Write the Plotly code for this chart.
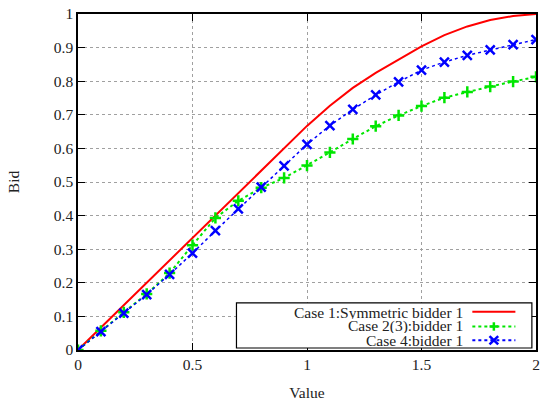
import plotly.graph_objects as go

values = [round(0.1 * i, 1) for i in range(21)]
case1_sym = [0, 0.067, 0.133, 0.2, 0.267, 0.333, 0.4, 0.467, 0.533, 0.6, 0.667,
             0.727, 0.780, 0.825, 0.865, 0.904, 0.937, 0.963, 0.982, 0.994, 1.0]
case23 = [0, 0.057, 0.112, 0.167, 0.229, 0.312, 0.393, 0.444, 0.483, 0.512, 0.549,
          0.588, 0.628, 0.666, 0.698, 0.726, 0.751, 0.768, 0.784, 0.799, 0.813]
case4 = [0, 0.055, 0.11, 0.165, 0.225, 0.288, 0.355, 0.42, 0.485, 0.548, 0.612,
         0.668, 0.716, 0.759, 0.798, 0.833, 0.857, 0.877, 0.893, 0.909, 0.924]
names = ["Case 1:Symmetric bidder 1", "Case 2(3):bidder 1", "Case 4:bidder 1"]
colors = ["#ff0000", "#00e600", "#0000ff"]
y_ticks = [round(0.1 * i, 1) for i in range(11)]
y_labels = ["0", "0.1", "0.2", "0.3", "0.4", "0.5", "0.6", "0.7", "0.8", "0.9", "1"]
x_ticks = [0, 0.5, 1, 1.5, 2]
x_labels = ["0", "0.5", "1", "1.5", "2"]

FONT = "Liberation Serif"
FS = 15.5

fig = go.Figure()
fig.add_trace(go.Scatter(x=values, y=case1_sym, mode="lines", name=names[0],
                         line=dict(color=colors[0], width=2), showlegend=False))
fig.add_trace(go.Scatter(x=values, y=case23, mode="lines+markers", name=names[1],
                         line=dict(color=colors[1], width=2, dash="dot"),
                         marker=dict(symbol="cross-thin", size=8,
                                     line=dict(color=colors[1], width=2.5)),
                         showlegend=False))
fig.add_trace(go.Scatter(x=values, y=case4, mode="lines+markers", name=names[2],
                         line=dict(color=colors[2], width=1.5, dash="dot"),
                         marker=dict(symbol="x-thin", size=9,
                                     line=dict(color=colors[2], width=2.5)),
                         showlegend=False))

# custom gnuplot-style legend (samples on the right of the text)
leg_rows = [0.114, 0.070, 0.029]
fig.add_shape(type="rect", xref="x domain", yref="y domain", x0=0.346, x1=0.991,
              y0=0.006, y1=0.140, line=dict(color="black", width=1.2),
              fillcolor="white", layer="above")
dashes = ["solid", "dot", "dot"]
mx, hx, hy = 0.908, 0.0095, 0.0125
for i in range(3):
    yy = leg_rows[i]
    fig.add_annotation(xref="x domain", yref="y domain", x=0.842, y=yy,
                       text=names[i], showarrow=False, xanchor="right",
                       yanchor="middle", height=14, borderpad=0,
                       font=dict(family=FONT, size=FS, color="#222"))
    fig.add_shape(type="line", xref="x domain", yref="y domain", x0=0.861, x1=0.955,
                  y0=yy, y1=yy, layer="above",
                  line=dict(color=colors[i], width=2, dash=dashes[i]))
    if i == 1:
        fig.add_shape(type="line", xref="x domain", yref="y domain", x0=mx - hx, x1=mx + hx,
                      y0=yy, y1=yy, layer="above", line=dict(color=colors[i], width=2.5))
        fig.add_shape(type="line", xref="x domain", yref="y domain", x0=mx, x1=mx,
                      y0=yy - hy, y1=yy + hy, layer="above", line=dict(color=colors[i], width=2.5))
    if i == 2:
        fig.add_shape(type="line", xref="x domain", yref="y domain", x0=mx - hx, x1=mx + hx,
                      y0=yy - hy, y1=yy + hy, layer="above", line=dict(color=colors[i], width=2.5))
        fig.add_shape(type="line", xref="x domain", yref="y domain", x0=mx - hx, x1=mx + hx,
                      y0=yy + hy, y1=yy - hy, layer="above", line=dict(color=colors[i], width=2.5))

axis_common = dict(showline=True, linecolor="black", linewidth=1.5, mirror="allticks",
                   ticks="inside", ticklen=7, tickcolor="black", tickwidth=1,
                   showgrid=True, gridcolor="#a0a0a0", griddash="dot", gridwidth=1,
                   zeroline=False, tickfont=dict(family=FONT, size=FS, color="#222"))

fig.update_layout(
    width=543, height=402,
    margin=dict(l=78, r=3, t=14, b=46),
    paper_bgcolor="white", plot_bgcolor="white",
    font=dict(family=FONT, size=FS, color="#222"),
    xaxis=dict(range=[0, 2], tickvals=x_ticks, ticktext=x_labels,
               title=dict(text="Value", font=dict(family=FONT, size=FS), standoff=15),
               **axis_common),
    yaxis=dict(range=[0, 1], tickvals=y_ticks, ticktext=y_labels,
               title=dict(text="Bid", font=dict(family=FONT, size=FS), standoff=30),
               **axis_common),
    showlegend=False,
)

fig.write_html("out.html", config={"displayModeBar": False},
               post_script="document.body.style.margin='0';document.body.style.padding='0';")
